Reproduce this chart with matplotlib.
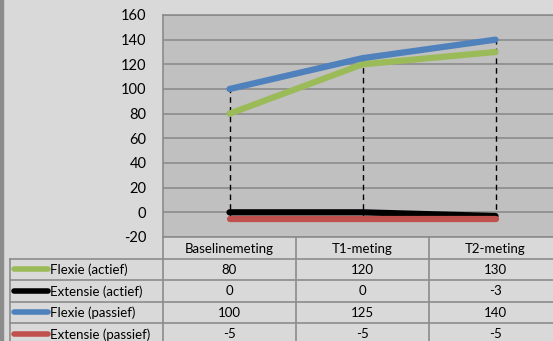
import matplotlib.pyplot as plt
from matplotlib.patches import Rectangle

# Data
categories = ["Baselinemeting", "T1-meting", "T2-meting"]
series_names = ["Flexie (actief)", "Extensie (actief)", "Flexie (passief)", "Extensie (passief)"]
flexie_actief = [80, 120, 130]
extensie_actief = [0, 0, -3]
flexie_passief = [100, 125, 140]
extensie_passief = [-5, -5, -5]
series_values = [flexie_actief, extensie_actief, flexie_passief, extensie_passief]
series_colors = ["#9bbb59", "#000000", "#4f81bd", "#c0504d"]
yticks = list(range(-20, 161, 20))

plt.rcParams['font.family'] = ['Lato', 'DejaVu Sans']
plt.rcParams['axes.unicode_minus'] = False

W, H = 553, 341
fig = plt.figure(figsize=(W / 100, H / 100), dpi=100)
fig.patch.set_facecolor("#d9d9d9")
fig.patches.append(Rectangle((0, 0), 3 / W, 1, transform=fig.transFigure,
                             color="#8c8c8c", zorder=0))


def px_axes(x0, y0, x1, y1):
    # pixel box with top-left origin -> figure fraction
    return fig.add_axes([x0 / W, 1 - y1 / H, (x1 - x0) / W, (y1 - y0) / H])


grid_col = "#8c8c8c"
cell = 133
plot_left, plot_top, plot_bottom = 163, 15, 237
plot_right = plot_left + len(categories) * cell
x = list(range(len(categories)))

# Main plot
ax = px_axes(plot_left, plot_top, plot_right, plot_bottom)
ax.set_facecolor("#c0c0c0")
ax.set_xlim(-0.5, len(categories) - 0.5)
ax.set_ylim(-20, 160)
ax.set_yticks(yticks)
ax.set_xticks([])
ax.yaxis.grid(True, color=grid_col, lw=1.2)
ax.set_axisbelow(True)
ax.tick_params(axis="y", length=0, pad=12, labelsize=10.5, labelcolor="#000000")
for side in ["left", "top", "bottom", "right"]:
    ax.spines[side].set_color(grid_col)
    ax.spines[side].set_linewidth(1.2)

# Drop lines (high-low)
lows = [min(v) for v in zip(*series_values)]
highs = [max(v) for v in zip(*series_values)]
ax.vlines(x, lows, highs, colors="black", linestyles=(0, (4, 3)), lw=1, zorder=2)

for vals, col in zip(series_values, series_colors):
    ax.plot(x, vals, color=col, lw=4.5, solid_capstyle="round", zorder=3, clip_on=False)

# Data table below the plot
row_h = 21.5
n_rows = len(series_names) + 1
table_left = 10
tab = px_axes(table_left, plot_bottom, plot_right, plot_bottom + n_rows * row_h)
tab.set_facecolor("none")
x_left = -0.5 - (plot_left - table_left) / cell
tab.set_xlim(x_left, len(categories) - 0.5)
tab.set_ylim(n_rows, 0)
tab.axis("off")


def px_to_x(px):
    return -0.5 - (plot_left - px) / cell


for r in range(1, n_rows + 1):
    tab.plot([x_left, len(categories) - 0.5], [r, r], color=grid_col, lw=1.2, clip_on=False)
tab.plot([x_left, x_left], [1, n_rows], color=grid_col, lw=1.2, clip_on=False)
for b in range(len(categories)):
    tab.plot([b - 0.5, b - 0.5], [0, n_rows], color=grid_col, lw=1.2, clip_on=False)

for i, cat in enumerate(categories):
    tab.text(i, 0.55, cat, ha="center", va="center", fontsize=9.5)

for r, (name, vals, col) in enumerate(zip(series_names, series_values, series_colors), start=1):
    yc = r + 0.5
    tab.plot([px_to_x(14), px_to_x(48)], [yc, yc], color=col, lw=4, solid_capstyle="round")
    tab.text(px_to_x(50), yc + 0.03, name, ha="left", va="center", fontsize=9.5)
    for i, v in enumerate(vals):
        tab.text(i, yc + 0.03, str(v), ha="center", va="center", fontsize=9.5)

fig.savefig("out.png", dpi=100, facecolor=fig.get_facecolor())
